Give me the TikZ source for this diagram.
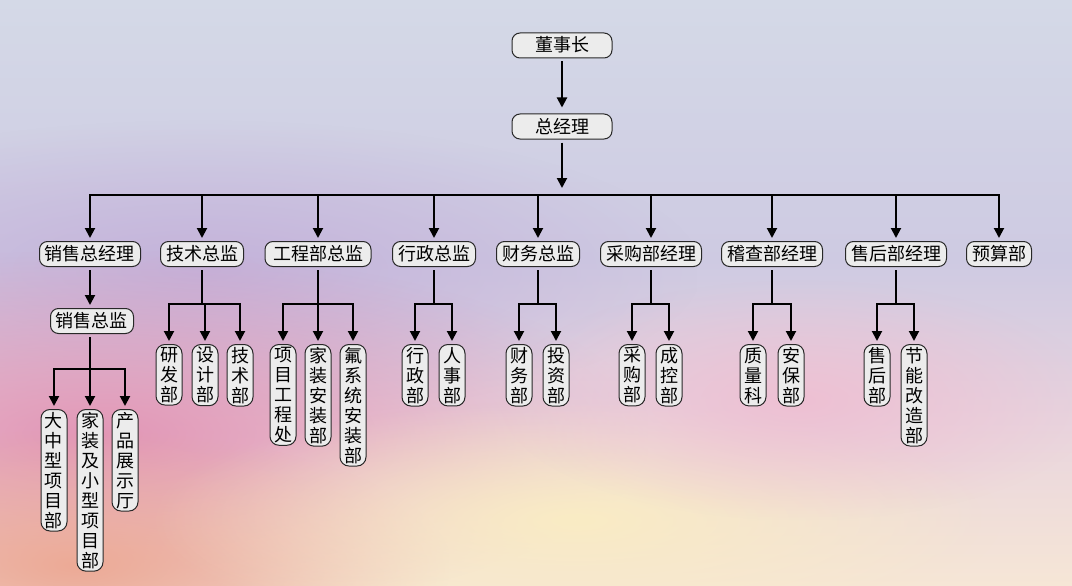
\documentclass[tikz,border=0pt]{standalone}
\usepackage{fontspec}
\newfontfamily\cjk{Noto Sans CJK SC}
\usetikzlibrary{arrows.meta,fadings}
\tikzfading[name=glow, inner color=transparent!0, outer color=transparent!100]
\definecolor{boxfill}{RGB}{236,236,236}
\definecolor{boxline}{RGB}{40,40,40}
\definecolor{skytop}{RGB}{212,217,231}
\definecolor{skymid}{RGB}{206,202,226}
\definecolor{skylow}{RGB}{232,212,222}
\definecolor{skybot}{RGB}{246,230,214}
\definecolor{pinkglow}{RGB}{226,150,182}
\definecolor{peachglow}{RGB}{250,236,196}
\definecolor{orangeglow}{RGB}{236,170,150}
\definecolor{lavglow}{RGB}{196,178,218}
\begin{document}
\begin{tikzpicture}[x=1pt,y=-1pt,
  hbox/.style={draw=boxline, fill=boxfill, line width=1pt, rounded corners=8pt,
    font=\cjk\fontsize{18}{20}\selectfont, inner xsep=5.5pt, inner ysep=3.5pt,
    text height=15.5pt, text depth=2.5pt},
  vbox/.style={draw=boxline, fill=boxfill, line width=1pt, rounded corners=9pt,
    font=\cjk\fontsize{18}{20}\selectfont, inner xsep=4pt, inner ysep=2.5pt,
    align=center, anchor=north},
  arr/.style={line width=2pt, -{Triangle[length=10pt,width=10pt]}, shorten >=3pt, shorten <=3pt},
  ln/.style={line width=2pt, line cap=rect}
]
% background
\useasboundingbox (0,0) rectangle (1072,586);
\shade[top color=skytop, bottom color=skymid] (0,0) rectangle (1072,260);
\shade[top color=skymid, bottom color=skylow] (0,260) rectangle (1072,420);
\shade[top color=skylow, bottom color=skybot] (0,420) rectangle (1072,586);
\fill[lavglow, path fading=glow] (-300,120) rectangle (700,420);
\fill[pinkglow, path fading=glow] (-450,250) rectangle (650,620);
\fill[orangeglow, path fading=glow] (-300,430) rectangle (450,700);
\fill[peachglow, path fading=glow] (150,400) rectangle (1000,640);
\fill[pinkglow!60!white, path fading=glow] (500,280) rectangle (1100,520);

% top
\node[hbox, minimum width=100pt] (ds) at (562,45.5) {董事长};
\node[hbox, minimum width=100pt] (zjl) at (562,126.5) {总经理};
\draw[arr, shorten >=6pt] (ds.south) -- (zjl.north);
\coordinate (tip) at (562,188);
\draw[arr, shorten >=0pt] (zjl.south) -- (tip);

% row 2
\node[hbox] (A) at (90,254) {销售总经理};
\node[hbox] (B) at (202,254) {技术总监};
\node[hbox, minimum width=106pt] (C) at (318,254) {工程部总监};
\node[hbox] (D) at (434,254) {行政总监};
\node[hbox] (E) at (538,254) {财务总监};
\node[hbox] (F) at (651,254) {采购部经理};
\node[hbox] (G) at (772,254) {稽查部经理};
\node[hbox] (H) at (896,254) {售后部经理};
\node[hbox] (I) at (999,254) {预算部};

\coordinate (busY) at (0,195);
\draw[ln] (A |- busY) -- (I |- busY);
\foreach \n in {A,B,C,D,E,F,G,H,I}
  \draw[arr, shorten <=0pt] (\n |- busY) -- (\n.north);

% sales
\node[hbox] (sx) at (92,321) {销售总监};
\draw[arr] (A.south) -- (A.south |- sx.north);
\node[vbox] (a1) at (54,409) {大\\中\\型\\项\\目\\部};
\node[vbox] (a2) at (90,409) {家\\装\\及\\小\\型\\项\\目\\部};
\node[vbox] (a3) at (125,409) {产\\品\\展\\示\\厅};
\coordinate (b3) at (0,369);
\draw[ln, shorten <=3pt, line cap=butt] (A |- sx.south) -- (A |- b3);
\draw[ln] (a1 |- b3) -- (a3 |- b3);
\foreach \n in {a1,a2,a3}
  \draw[arr, shorten <=0pt] (\n |- b3) -- (\n.north);

% level 3
\coordinate (b2) at (0,304);
\newcommand{\subtree}[3]{%
  \draw[ln, shorten <=3pt, line cap=butt] (#1.south) -- (#1 |- b2);
  \draw[ln] (#2 |- b2) -- (#3 |- b2);}

\node[vbox] (b1n) at (169,344) {研\\发\\部};
\node[vbox] (b2n) at (205,344) {设\\计\\部};
\node[vbox] (b3n) at (240,344) {技\\术\\部};
\subtree{B}{b1n}{b3n}
\foreach \n in {b1n,b2n,b3n} \draw[arr, shorten <=0pt] (\n |- b2) -- (\n.north);

\node[vbox] (c1) at (283,344) {项\\目\\工\\程\\处};
\node[vbox] (c2) at (318,344) {家\\装\\安\\装\\部};
\node[vbox] (c3) at (353,344) {氟\\系\\统\\安\\装\\部};
\subtree{C}{c1}{c3}
\foreach \n in {c1,c2,c3} \draw[arr, shorten <=0pt] (\n |- b2) -- (\n.north);

\node[vbox] (d1) at (415,344) {行\\政\\部};
\node[vbox] (d2) at (452,344) {人\\事\\部};
\subtree{D}{d1}{d2}
\foreach \n in {d1,d2} \draw[arr, shorten <=0pt] (\n |- b2) -- (\n.north);

\node[vbox] (e1) at (519,344) {财\\务\\部};
\node[vbox] (e2) at (556,344) {投\\资\\部};
\subtree{E}{e1}{e2}
\foreach \n in {e1,e2} \draw[arr, shorten <=0pt] (\n |- b2) -- (\n.north);

\node[vbox] (f1) at (632,344) {采\\购\\部};
\node[vbox] (f2) at (669,344) {成\\控\\部};
\subtree{F}{f1}{f2}
\foreach \n in {f1,f2} \draw[arr, shorten <=0pt] (\n |- b2) -- (\n.north);

\node[vbox] (g1) at (753,344) {质\\量\\科};
\node[vbox] (g2) at (791,344) {安\\保\\部};
\subtree{G}{g1}{g2}
\foreach \n in {g1,g2} \draw[arr, shorten <=0pt] (\n |- b2) -- (\n.north);

\node[vbox] (h1) at (877,344) {售\\后\\部};
\node[vbox] (h2) at (914,344) {节\\能\\改\\造\\部};
\subtree{H}{h1}{h2}
\foreach \n in {h1,h2} \draw[arr, shorten <=0pt] (\n |- b2) -- (\n.north);
\end{tikzpicture}
\end{document}
